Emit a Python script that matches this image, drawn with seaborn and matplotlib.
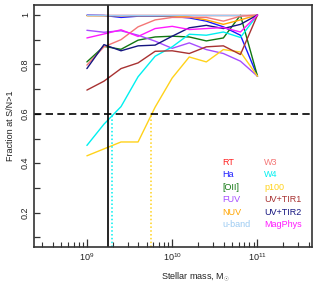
import numpy as np
import pandas as pd
import matplotlib
matplotlib.use("Agg")
import matplotlib.pyplot as plt
import seaborn as sns
from matplotlib.ticker import LogLocator, MultipleLocator, NullFormatter

sns.set_style("white")
plt.rcParams['font.family'] = ['Liberation Sans', 'DejaVu Sans']
plt.rcParams['mathtext.fontset'] = 'custom'
plt.rcParams['mathtext.rm'] = 'Liberation Sans'
plt.rcParams['mathtext.it'] = 'Liberation Sans:italic'

# ---- data ----
log_mass = [9.0, 9.2, 9.4, 9.6, 9.8, 10.0, 10.2, 10.4, 10.6, 10.8, 11.0]
bands = ["RT", "Ha", "[OII]", "FUV", "NUV", "u-band",
         "W3", "W4", "p100", "UV+TIR1", "UV+TIR2", "MagPhys"]
RT      = [1.000, 1.000, 1.000, 1.000, 1.000, 1.000, 1.000, 1.000, 1.000, 1.000, 1.000]
Ha      = [0.999, 0.998, 0.990, 0.995, 0.995, 0.994, 0.988, 0.975, 0.952, 0.918, 0.752]
OII     = [0.810, 0.873, 0.861, 0.898, 0.911, 0.914, 0.911, 0.895, 0.907, 0.999, 0.752]
FUV     = [0.938, 0.930, 0.936, 0.918, 0.894, 0.865, 0.887, 0.860, 0.844, 0.813, 0.752]
NUV     = [0.997, 0.997, 0.997, 0.997, 0.997, 0.996, 0.992, 0.980, 0.962, 0.980, 1.000]
uband   = [1.000, 1.000, 1.000, 1.000, 1.000, 1.000, 1.000, 1.000, 1.000, 1.000, 1.000]
W3      = [0.797, 0.871, 0.900, 0.952, 0.980, 0.990, 0.990, 0.990, 0.975, 0.995, 1.000]
W4      = [0.472, 0.558, 0.629, 0.750, 0.833, 0.871, 0.922, 0.918, 0.931, 0.909, 1.000]
p100    = [0.430, 0.458, 0.486, 0.486, 0.627, 0.745, 0.830, 0.810, 0.860, 0.850, 0.752]
UVTIR1  = [0.696, 0.732, 0.783, 0.806, 0.853, 0.855, 0.844, 0.871, 0.875, 0.840, 1.000]
UVTIR2  = [0.783, 0.880, 0.855, 0.875, 0.878, 0.914, 0.948, 0.958, 0.945, 0.962, 1.000]
MagPhys = [0.907, 0.923, 0.940, 0.913, 0.945, 0.954, 0.941, 0.945, 0.949, 0.931, 1.000]
series = [RT, Ha, OII, FUV, NUV, uband, W3, W4, p100, UVTIR1, UVTIR2, MagPhys]
colors = ["#ff2020", "#1a1aff", "#117711", "#a64dff", "#ffa500", "#9ccbf2",
          "#f47676", "#00f0f0", "#ffd21a", "#a83232", "#151580", "#ff1aff"]
threshold = 0.6
mass_cut = 1.78e9          # solid black vertical line
w4_cross = 1.98e9          # W4 crosses threshold
p100_cross = 5.66e9        # p100 crosses threshold

df = pd.DataFrame({
    "mass": np.tile(10.0 ** np.array(log_mass), len(bands)),
    "frac": np.concatenate(series),
    "band": np.repeat(bands, len(log_mass)),
})

fig = plt.figure(figsize=(3.15, 2.82), dpi=100)
ax = fig.add_axes([0.108, 0.125, 0.881, 0.857])

sns.lineplot(data=df, x="mass", y="frac", hue="band", hue_order=bands,
             palette=colors, lw=1.0, ax=ax, legend=True, sort=False)
ax.set_xscale("log")
ax.set_xlim(2.4e8, 4.3e11)
ylo, yhi = 0.062, 1.04
ax.set_ylim(ylo, yhi)

ax.axhline(threshold, color="black", lw=1.2, ls=(0, (4.4, 2.6)))
ax.axvline(mass_cut, color="black", lw=1.2)
ax.plot([w4_cross, w4_cross], [ylo, threshold], color="#00f0f0", lw=1.1, ls=(0, (1, 1.5)))
ax.plot([p100_cross, p100_cross], [ylo, threshold], color="#ffd21a", lw=1.1, ls=(0, (1, 1.5)))

# axes styling
for s in ax.spines.values():
    s.set_color("#333333")
    s.set_linewidth(1.2)
ax.xaxis.set_major_locator(LogLocator(base=10, numticks=10))
ax.xaxis.set_minor_locator(LogLocator(base=10, subs=np.arange(2, 10), numticks=20))
ax.xaxis.set_minor_formatter(NullFormatter())
ax.yaxis.set_major_locator(MultipleLocator(0.2))
ax.yaxis.set_minor_locator(MultipleLocator(0.1))
ax.set_yticks([0.2, 0.4, 0.6, 0.8, 1.0])
ax.set_yticklabels(["0.2", "0.4", "0.6", "0.8", "1"])
ax.tick_params(axis="both", which="both", direction="in", colors="#333333",
               labelcolor="#222222", labelsize=6.5, top=False, right=False,
               bottom=True, left=True)
ax.tick_params(axis="x", which="major", length=6, width=0.9, pad=3)
ax.tick_params(axis="x", which="minor", length=3.5, width=0.8)
ax.tick_params(axis="y", which="major", length=4, width=0.9, pad=3)
ax.tick_params(axis="y", which="minor", length=4, width=0.9)
for lab in ax.get_yticklabels():
    lab.set_rotation(90)
    lab.set_va("center")

ax.set_xlabel(r"Stellar mass, M$_{\odot}$", fontsize=6.5, color="#222222")
ax.xaxis.set_label_coords(0.58, -0.095)
ax.set_ylabel("Fraction at S/N>1", fontsize=6.5, color="#222222", labelpad=4)

leg = ax.legend(ncol=2, handlelength=0, handletextpad=0, labelcolor="linecolor",
                frameon=False, fontsize=6.5, loc="upper left",
                bbox_to_anchor=(0.68, 0.368), borderpad=0, borderaxespad=0,
                labelspacing=0.38, columnspacing=1.45)
for h in leg.legend_handles:
    h.set_visible(False)

fig.savefig("out.png", dpi=100)
